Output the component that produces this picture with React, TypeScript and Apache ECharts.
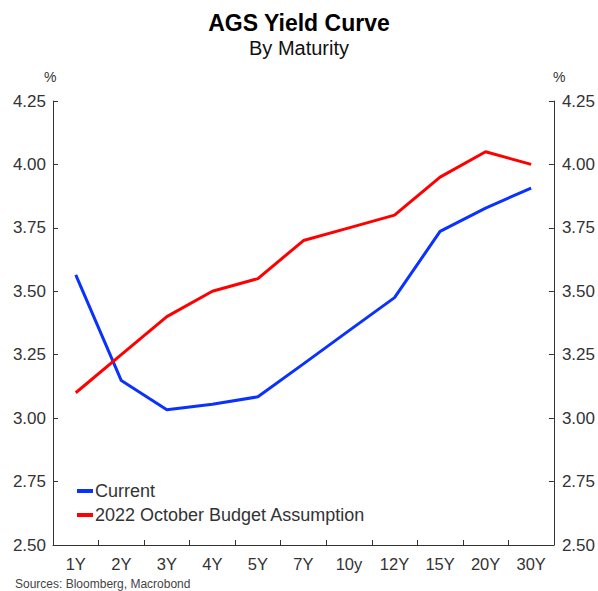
import React, { useEffect, useRef } from "react";
import * as echarts from "echarts";

const categories = ["1Y", "2Y", "3Y", "4Y", "5Y", "7Y", "10y", "12Y", "15Y", "20Y", "30Y"];
const currentValues = [3.565, 3.148, 3.033, 3.055, 3.084, 3.214, 3.345, 3.475, 3.736, 3.828, 3.907];
const budgetValues = [3.1, 3.25, 3.4, 3.5, 3.55, 3.7, 3.75, 3.8, 3.95, 4.05, 4.0];
const yMin = 2.5;
const yMax = 4.25;
const yStep = 0.25;

export default function App() {
  const ref = useRef<HTMLDivElement>(null);
  useEffect(() => {
    if (!ref.current) return;
    const chart = echarts.init(ref.current, undefined, { renderer: "svg" });
    const font = "'Liberation Sans', Arial, sans-serif";
    const axisCommon = {
      type: "value" as const,
      min: yMin,
      max: yMax,
      interval: yStep,
      axisLine: { show: true, lineStyle: { color: "#333", width: 1 } },
      axisTick: { show: true, inside: true, length: 5, lineStyle: { color: "#333" } },
      splitLine: { show: false },
      axisLabel: {
        color: "#333",
        fontSize: 17,
        fontFamily: font,
        margin: 7,
        formatter: (v: number) => v.toFixed(2),
      },
    };
    chart.setOption({
      animation: false,
      backgroundColor: "#fff",
      title: {
        text: "AGS Yield Curve",
        subtext: "By Maturity",
        left: "center",
        top: 6,
        itemGap: 4,
        textStyle: { fontSize: 23, fontWeight: "bold", color: "#000", fontFamily: font },
        subtextStyle: { fontSize: 20, color: "#111", fontFamily: font },
      },
      grid: { left: 53, right: 41, top: 101, bottom: 46, containLabel: false },
      legend: {
        orient: "vertical",
        left: 77,
        top: 482,
        padding: 0,
        itemWidth: 16,
        itemHeight: 4,
        itemGap: 6,
        icon: "rect",
        textStyle: { fontSize: 18, color: "#333", fontFamily: font, padding: [0, 0, 0, -3] },
        data: ["Current", "2022 October Budget Assumption"],
      },
      xAxis: {
        type: "category",
        data: categories,
        boundaryGap: true,
        axisLine: { show: true, lineStyle: { color: "#333", width: 1 } },
        axisTick: { show: true, inside: true, length: 5, lineStyle: { color: "#333" } },
        axisLabel: { color: "#333", fontSize: 16.5, fontFamily: font, margin: 10, interval: 0 },
        splitLine: { show: false },
      },
      yAxis: [
        { ...axisCommon, position: "left" },
        { ...axisCommon, position: "right", axisLabel: { ...axisCommon.axisLabel, margin: 8 } },
      ],
      graphic: [
        {
          type: "text",
          left: 44,
          top: 70,
          style: { text: "%", fill: "#333", font: `14px ${font}` },
        },
        {
          type: "text",
          left: 553,
          top: 70,
          style: { text: "%", fill: "#333", font: `14px ${font}` },
        },
        {
          type: "text",
          left: 15,
          top: 578,
          style: { text: "Sources: Bloomberg, Macrobond", fill: "#444", font: `12px ${font}` },
        },
      ],
      series: [
        {
          name: "Current",
          type: "line",
          data: currentValues,
          yAxisIndex: 0,
          symbol: "none",
          lineStyle: { color: "#0a32ff", width: 3 },
          itemStyle: { color: "#0a32ff" },
        },
        {
          name: "2022 October Budget Assumption",
          type: "line",
          data: budgetValues,
          yAxisIndex: 0,
          symbol: "none",
          lineStyle: { color: "#ff0000", width: 3 },
          itemStyle: { color: "#ff0000" },
        },
      ],
    });
    return () => chart.dispose();
  }, []);
  return <div ref={ref} style={{ width: 598, height: 591, position: "absolute", left: 0, top: 0 }} />;
}
